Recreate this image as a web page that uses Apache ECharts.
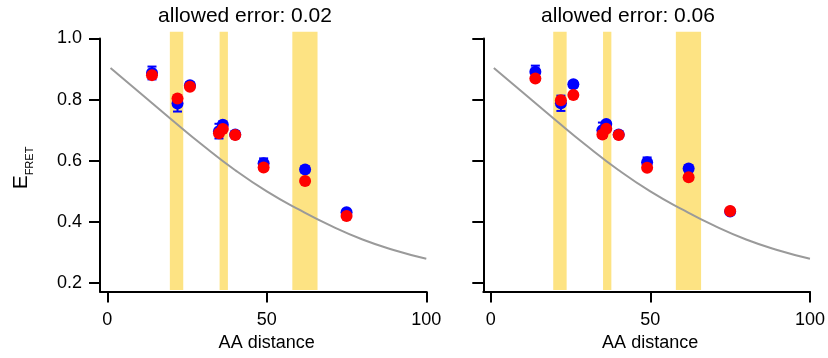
<!DOCTYPE html>
<html><head><meta charset="utf-8">
<script src="https://cdn.jsdelivr.net/npm/echarts@6/dist/echarts.min.js"></script>
<style>html,body{margin:0;padding:0;background:#fff}#c{width:828px;height:358px}</style>
</head><body><div id="c"></div>
<script>
// ---- data ----
const aaDistance = [14.0, 22.0, 25.9, 35.0, 36.2, 40.1, 49.0, 62.0, 75.0];

const blue002    = [0.887, 0.787, 0.847, 0.697, 0.718, 0.686, 0.592, 0.572, 0.432];
const blueErr002 = [0.021, 0.026, 0.010, 0.024, 0.010, 0.010, 0.016, 0.010, 0.008];
const red002     = [0.880, 0.804, 0.842, 0.690, 0.704, 0.684, 0.578, 0.534, 0.420];

const blue006    = [0.891, 0.788, 0.850, 0.700, 0.720, 0.686, 0.595, 0.575, 0.434];
const blueErr006 = [0.020, 0.025, 0.010, 0.025, 0.010, 0.010, 0.016, 0.010, 0.008];
const red006     = [0.869, 0.798, 0.815, 0.686, 0.705, 0.684, 0.577, 0.546, 0.436];

const bandStart = [19.6, 35.2, 58.0];
const bandEnd   = [23.8, 37.8, 65.9];
const bandLow = 0.178, bandHigh = 1.022;

const fitX = [1, 10, 20, 30, 40, 50, 60, 70, 80, 90, 100];
const fitY = [0.903, 0.824, 0.736, 0.650, 0.570, 0.500, 0.441, 0.388, 0.343, 0.308, 0.280];

const panelTitles = ['allowed error: 0.02', 'allowed error: 0.06'];
const yTickValues = [0.2, 0.4, 0.6, 0.8, 1.0];
const xTickValues = [0, 50, 100];
const xAxisName = 'AA distance';

// ---- chart ----
const FONT = "'Liberation Sans', Arial, Helvetica, sans-serif";
const BAND = '#fde383';
const chart = echarts.init(document.getElementById('c'), null, {renderer: 'canvas'});

const panels = [
  {blue: blue002, err: blueErr002, red: red002},
  {blue: blue006, err: blueErr006, red: red006}
];

const grids = [
  {left: 100, top: 38.4, width: 326.3, height: 253.1},
  {left: 483.3, top: 38.4, width: 326.7, height: 253.1}
];

const axisLineStyle = {color: '#000', width: 2};

const xAxes = grids.map((g, i) => ({
  type: 'value', gridIndex: i, min: -2.3, max: 100,
  splitLine: {show: false},
  axisLine: {show: true, onZero: false, lineStyle: axisLineStyle},
  axisTick: {show: true, length: 11, lineStyle: axisLineStyle, customValues: xTickValues},
  axisLabel: {show: true, customValues: xTickValues, margin: 20, fontSize: 18, color: '#000', fontFamily: FONT},
  name: xAxisName, nameLocation: 'middle', nameGap: 42,
  nameTextStyle: {fontSize: 18, color: '#000', fontFamily: FONT, padding: [0, 0, 0, 7]}
}));

const yAxes = grids.map((g, i) => ({
  type: 'value', gridIndex: i, min: 0.173, max: 1.0,
  splitLine: {show: false},
  axisLine: {show: true, onZero: false, lineStyle: axisLineStyle},
  axisTick: {show: true, length: 11, lineStyle: axisLineStyle, customValues: yTickValues},
  axisLabel: {show: i === 0, customValues: yTickValues, margin: 18, fontSize: 18, color: '#000', fontFamily: FONT,
              formatter: v => v.toFixed(1)}
}));

const series = [];
panels.forEach((p, i) => {
  series.push({
    type: 'custom', xAxisIndex: i, yAxisIndex: i, clip: false, z: 1, silent: true,
    encode: {x: [0, 1], y: [2, 3]},
    data: bandStart.map((s, k) => [s, bandEnd[k], bandLow, bandHigh]),
    renderItem: (params, api) => {
      const a = api.coord([api.value(0), api.value(3)]);
      const b = api.coord([api.value(1), api.value(2)]);
      return {type: 'rect', shape: {x: a[0], y: a[1], width: b[0] - a[0], height: b[1] - a[1]}, style: {fill: BAND}};
    }
  });
  series.push({
    type: 'line', xAxisIndex: i, yAxisIndex: i, z: 2, showSymbol: false, smooth: 0.5, silent: true,
    lineStyle: {color: '#9a9a9a', width: 2},
    data: fitX.map((x, k) => [x, fitY[k]])
  });
  series.push({
    type: 'custom', xAxisIndex: i, yAxisIndex: i, z: 3, silent: true,
    encode: {x: 0, y: [1, 2]},
    data: aaDistance.map((x, k) => [x, p.blue[k] - p.err[k], p.blue[k] + p.err[k]]),
    renderItem: (params, api) => {
      const lo = api.coord([api.value(0), api.value(1)]);
      const hi = api.coord([api.value(0), api.value(2)]);
      const st = {stroke: '#0000ff', lineWidth: 2};
      const w = 4.5;
      return {type: 'group', children: [
        {type: 'line', shape: {x1: lo[0], y1: lo[1], x2: hi[0], y2: hi[1]}, style: st},
        {type: 'line', shape: {x1: lo[0] - w, y1: lo[1], x2: lo[0] + w, y2: lo[1]}, style: st},
        {type: 'line', shape: {x1: hi[0] - w, y1: hi[1], x2: hi[0] + w, y2: hi[1]}, style: st}
      ]};
    }
  });
  series.push({
    type: 'scatter', xAxisIndex: i, yAxisIndex: i, z: 4, symbol: 'circle', symbolSize: 12,
    itemStyle: {color: '#0000ff', opacity: 1},
    data: aaDistance.map((x, k) => [x, p.blue[k]])
  });
  series.push({
    type: 'scatter', xAxisIndex: i, yAxisIndex: i, z: 5, symbol: 'circle', symbolSize: 12,
    itemStyle: {color: '#ff0000', opacity: 1},
    data: aaDistance.map((x, k) => [x, p.red[k]])
  });
});

chart.setOption({
  animation: false,
  backgroundColor: '#fff',
  title: [
    {text: panelTitles[0], left: 240, top: 0.5, textAlign: 'center',
     textStyle: {fontSize: 21, fontWeight: 'normal', color: '#000', fontFamily: FONT}},
    {text: panelTitles[1], left: 623, top: 0.5, textAlign: 'center',
     textStyle: {fontSize: 21, fontWeight: 'normal', color: '#000', fontFamily: FONT}}
  ],
  grid: grids,
  xAxis: xAxes,
  yAxis: yAxes,
  series: series,
  graphic: [{
    type: 'text', x: 21, y: 168, rotation: Math.PI / 2, silent: true,
    style: {
      text: '{e|E}{s|FRET}', align: 'center', verticalAlign: 'middle', fill: '#000', fontFamily: FONT,
      rich: {
        e: {fontSize: 21, lineHeight: 28, verticalAlign: 'middle', fontFamily: FONT, fill: '#000'},
        s: {fontSize: 11, lineHeight: 11, verticalAlign: 'bottom', fontFamily: FONT, fill: '#000'}
      }
    }
  }]
});
</script></body></html>
